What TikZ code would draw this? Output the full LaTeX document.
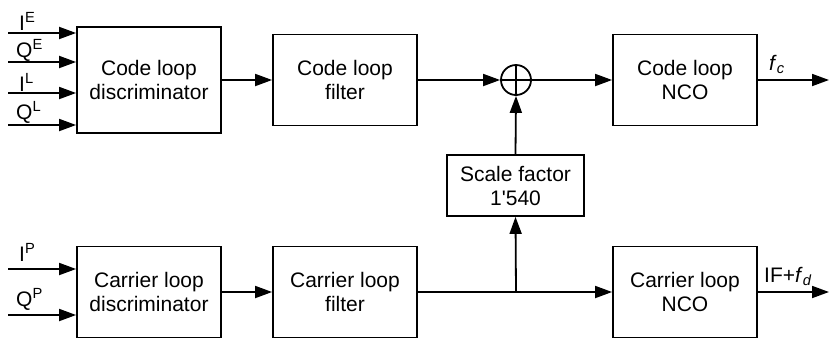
\documentclass[tikz,border=0pt]{standalone}
\usepackage{fontspec}
\setmainfont{Liberation Sans}
\usetikzlibrary{arrows.meta}
\tikzset{
  blk/.style={draw, line width=1.8bp, inner sep=0pt, align=center,
    font=\fontsize{21bp}{24bp}\selectfont, minimum width=144bp, minimum height=91bp},
  arr/.style={line width=1.8bp, -{Triangle[length=17bp,width=12bp]}},
  ln/.style={line width=1.8bp},
  lbl/.style={inner sep=0pt, anchor=base west, font=\fontsize{21bp}{24bp}\selectfont}
}
\begin{document}
\begin{tikzpicture}[x=1bp,y=-1bp]
\useasboundingbox (0,0) rectangle (829,338);
% top row
\node[blk, minimum height=106bp] (CD) at (149,80) {Code loop\\discriminator};
\node[blk] (CF) at (345,80) {Code loop\\filter};
\node[draw, circle, line width=1.8bp, minimum size=30bp, inner sep=0pt] (sum) at (516,80) {};
\node[blk] (CN) at (685,80) {Code loop\\NCO};
\node[blk, minimum width=137bp, minimum height=61bp] (SC) at (515.5,185.5) {Scale factor\\1\textquotesingle 540};
% bottom row
\node[blk] (PD) at (149,292) {Carrier loop\\discriminator};
\node[blk] (PF) at (345,292) {Carrier loop\\filter};
\node[blk] (PN) at (685,292) {Carrier loop\\NCO};
% input coordinates
\coordinate (iE) at (8,33);
\coordinate (qE) at (8,62);
\coordinate (iL) at (8,93);
\coordinate (qL) at (8,125);
\coordinate (iP) at (8,269);
\coordinate (qP) at (8,315);
\coordinate (oc) at (829,80);
\coordinate (od) at (829,292);
\coordinate (J) at (516,292);
% inputs
\draw[arr] (iE) -- (iE -| CD.west);
\draw[arr] (qE) -- (qE -| CD.west);
\draw[arr] (iL) -- (iL -| CD.west);
\draw[arr] (qL) -- (qL -| CD.west);
\draw[arr] (iP) -- (iP -| PD.west);
\draw[arr] (qP) -- (qP -| PD.west);
% labels
\node[lbl] (liE) at (19,30) {I\textsuperscript{E}};
\node[lbl] (lqE) at (16,57) {Q\textsuperscript{E}};
\node[lbl] (liL) at (19,91) {I\textsuperscript{L}};
\node[lbl] (lqL) at (16,119) {Q\textsuperscript{L}};
\node[lbl] (liP) at (19,261) {I\textsuperscript{P}};
\node[lbl] (lqP) at (16,306) {Q\textsuperscript{P}};
% top connectors
\draw[arr] (CD.east) -- (CF.west);
\draw[arr] (CF.east) -- (sum.west);
\draw[ln] (sum.north) -- (sum.south);
\draw[ln] (sum.west) -- (sum.east);
\draw[arr] (sum.east) -- (CN.west);
\draw[arr] (CN.east) -- (oc);
\draw[arr] (SC.north) -- (sum.south);
% bottom connectors
\draw[arr] (PD.east) -- (PF.west);
\draw[arr] (PF.east) -- (PN.west);
\draw[arr] (J) -- (SC.south);
\draw[arr] (PN.east) -- (od);
% output labels
\node[lbl] (lfc) at (769,70) {\textit{f}\textsubscript{\textit{c}}};
\node[lbl] (lfd) at (764,282) {IF+\textit{f}\textsubscript{\textit{d}}};
\end{tikzpicture}
\end{document}
